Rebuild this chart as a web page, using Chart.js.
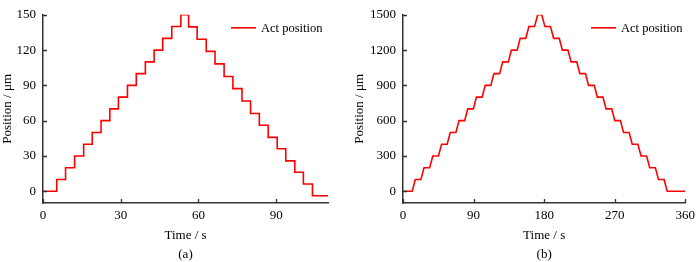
<!DOCTYPE html>
<html>
<head>
<meta charset="utf-8">
<script src="https://cdn.jsdelivr.net/npm/chart.js@4/dist/chart.umd.min.js"></script>
<style>
  html, body { margin: 0; padding: 0; background: #fff; }
  #wrap { position: relative; width: 700px; height: 262px; }
  .box { position: absolute; top: 0; width: 350px; height: 262px; }
</style>
</head>
<body>
<div id="wrap">
  <div class="box" style="left:0"><canvas id="ca"></canvas></div>
  <div class="box" style="left:350px"><canvas id="cb"></canvas></div>
</div>
<script>
// ---- Panel (a): step response, time in s, position in µm ----
const aTime = [0, 5.3, 8.7, 12.2, 15.7, 19.0, 22.4, 25.8, 29.1, 32.6, 36.0, 39.5, 42.9, 46.2, 49.7, 53.2,
               56.2, 59.5, 63.0, 66.4, 69.9, 73.3, 76.8, 80.1, 83.5, 86.9, 90.4, 93.7, 97.2, 100.5, 104.0, 110];
const aPos  = [0, 10, 20, 30, 40, 50, 60, 70, 80, 90, 100, 110, 120, 130, 140, 150,
               139.7, 129.2, 118.9, 108.3, 97.5, 87.2, 76.7, 66.1, 56.1, 45.8, 36.1, 25.8, 16.1, 6.1, -3.9, -3.9];
const aXTicks = [0, 30, 60, 90];
const aYTicks = [0, 30, 60, 90, 120, 150];

// ---- Panel (b) ----
const bTime = [0, 11.7, 15.7, 22.8, 26.8, 34.0, 38.0, 45.2, 49.2, 56.3, 60.3, 67.5, 71.5, 78.6, 82.6,
               89.7, 93.7, 100.9, 104.9, 112.0, 116.0, 123.2, 127.2, 134.3, 138.3, 145.5, 149.5, 156.6, 160.6,
               167.8, 171.8, 177.0, 181.0, 188.1, 192.1, 199.3, 203.3, 210.4, 214.4, 221.6, 225.6, 232.7, 236.7,
               243.9, 247.9, 255.0, 259.0, 266.2, 270.2, 277.3, 281.3, 288.4, 292.4, 299.6, 303.6, 310.7, 314.7,
               321.9, 325.9, 333.0, 337.0, 360];
const bPos  = [0, 0, 100, 100, 200, 200, 300, 300, 400, 400, 500, 500, 600, 600, 700,
               700, 800, 800, 900, 900, 1000, 1000, 1100, 1100, 1200, 1200, 1300, 1300, 1400,
               1400, 1500, 1500, 1400, 1400, 1300, 1300, 1200, 1200, 1100, 1100, 1000, 1000, 900,
               900, 800, 800, 700, 700, 600, 600, 500, 500, 400, 400, 300, 300, 200,
               200, 100, 100, 0, 0];
const bXTicks = [0, 90, 180, 270, 360];
const bYTicks = [0, 300, 600, 900, 1200, 1500];

const seriesLabel = 'Act position';
const xTitle = 'Time / s';
const yTitle = 'Position / \u03bcm';

const FONT = "'Liberation Serif', 'Times New Roman', serif";
const AXIS = '#333333';

const inwardTicks = {
  id: 'inwardTicks',
  afterDraw(chart) {
    const ctx = chart.ctx;
    const xs = chart.scales.x, ys = chart.scales.y;
    ctx.save();
    ctx.strokeStyle = AXIS;
    ctx.lineWidth = 1.3;
    ctx.beginPath();
    xs.ticks.forEach(t => {
      const px = Math.round(xs.getPixelForValue(t.value)) + 0.5;
      ctx.moveTo(px, xs.top); ctx.lineTo(px, xs.top - 4);
    });
    ys.ticks.forEach(t => {
      const py = Math.round(ys.getPixelForValue(t.value)) + 0.5;
      ctx.moveTo(ys.right, py); ctx.lineTo(ys.right + 4, py);
    });
    ctx.stroke();
    // legend (line sample + label) in the upper right of the plot
    const ds = chart.data.datasets[0];
    const area = chart.chartArea;
    const lx = area.left + 188, ly = area.top + 13;
    ctx.strokeStyle = ds.borderColor;
    ctx.lineWidth = ds.borderWidth;
    ctx.beginPath();
    ctx.moveTo(lx, ly); ctx.lineTo(lx + 25, ly);
    ctx.stroke();
    ctx.fillStyle = '#000';
    ctx.font = '12.5px ' + FONT;
    ctx.textBaseline = 'middle';
    ctx.textAlign = 'left';
    ctx.fillText(ds.label, lx + 30, ly + 0.5);
    ctx.restore();
  }
};

function makeChart(id, time, pos, opts) {
  const pts = time.map((t, i) => ({ x: t, y: pos[i] }));
  return new Chart(document.getElementById(id), {
    type: 'line',
    data: { datasets: [{
      label: seriesLabel, data: pts,
      borderColor: '#ff0000', backgroundColor: '#ff0000',
      borderWidth: 1.6, pointRadius: 0, stepped: opts.stepped, tension: 0
    }]},
    options: {
      responsive: true, maintainAspectRatio: false, animation: false,
      layout: { padding: { left: 0, right: opts.padRight, top: 11, bottom: 0 } },
      plugins: {
        tooltip: { enabled: false },
        legend: { display: false }
      },
      scales: {
        x: {
          type: 'linear', min: 0, max: opts.xMax,
          grid: { display: false, drawTicks: false },
          border: { display: true, color: AXIS, width: 1.5 },
          afterBuildTicks: s => { s.ticks = opts.xTicks.map(v => ({ value: v })); },
          afterFit: s => { s.height = 59; },
          ticks: { color: '#000', padding: 5, maxRotation: 0, font: { family: FONT, size: 13 },
                   callback: v => String(v) },
          title: { display: true, text: [xTitle, opts.panel], color: '#000',
                   font: { family: FONT, size: 13, lineHeight: 1.45 }, padding: { top: 0, bottom: -2 } }
        },
        y: {
          type: 'linear', min: opts.yMin, max: opts.yMax,
          grid: { display: false, drawTicks: false },
          border: { display: true, color: AXIS, width: 1.5 },
          afterBuildTicks: s => { s.ticks = opts.yTicks.map(v => ({ value: v })); },
          afterFit: s => { s.width = opts.left; },
          ticks: { color: '#000', padding: 7, font: { family: FONT, size: 13 },
                   callback: v => String(v) },
          title: { display: true, text: yTitle, color: '#000',
                   font: { family: FONT, size: 13 }, padding: { top: opts.yTitlePad, bottom: 0 } }
        }
      }
    },
    plugins: [inwardTicks]
  });
}

makeChart('ca', aTime, aPos, { stepped: true, xMax: 110, yMin: -10, yMax: 150,
  xTicks: aXTicks, yTicks: aYTicks, left: 43, padRight: 22, yTitlePad: 0, panel: '(a)' });
makeChart('cb', bTime, bPos, { stepped: false, xMax: 360, yMin: -100, yMax: 1500,
  xTicks: bXTicks, yTicks: bYTicks, left: 53, padRight: 12, yTitlePad: 2, panel: '(b)' });
</script>
</body>
</html>
